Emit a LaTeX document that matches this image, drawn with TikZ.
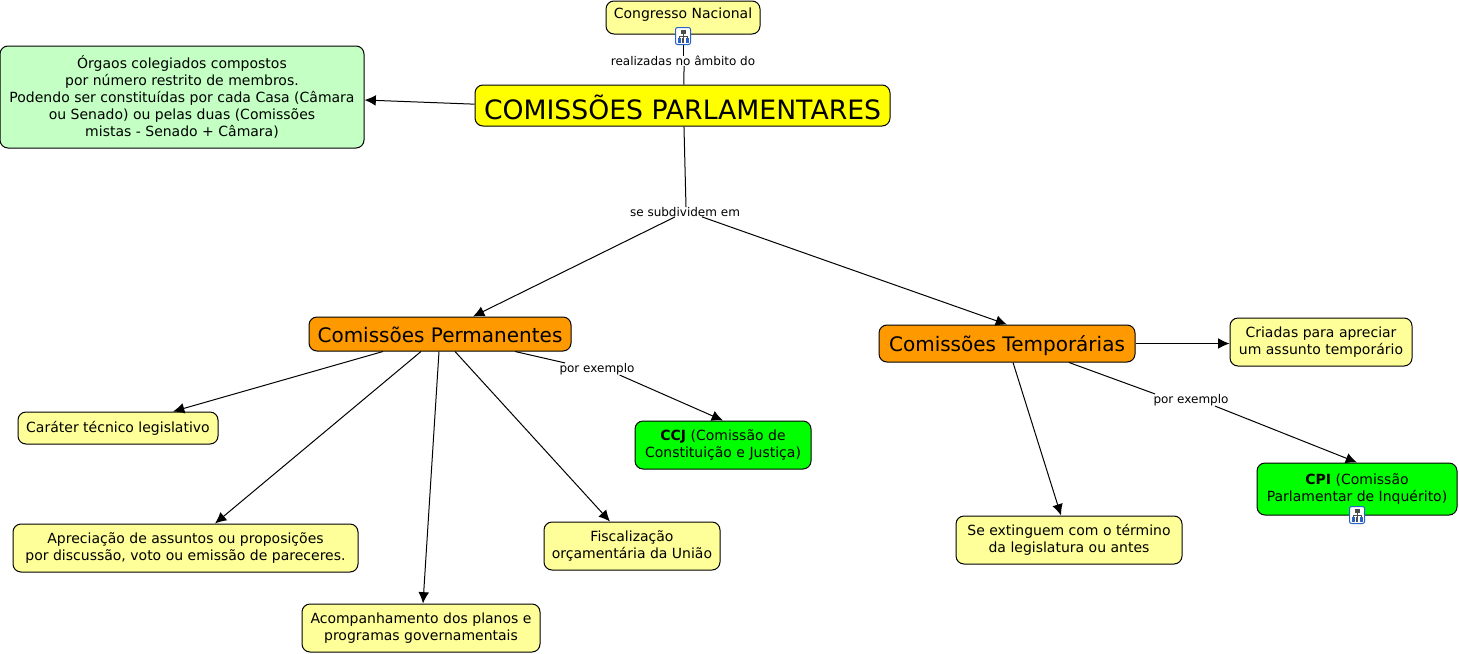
\documentclass[tikz,border=0pt]{standalone}
\usepackage{fontspec}
\setmainfont{DejaVu Sans}
\usetikzlibrary{arrows.meta}
\definecolor{paleyellow}{HTML}{FFFF99}
\definecolor{palegreen}{HTML}{C4FFC4}
\definecolor{brightgreen}{HTML}{00FF00}
\definecolor{conceptorange}{HTML}{FF9900}
\definecolor{brightyellow}{HTML}{FFFF00}
\definecolor{iconblue}{HTML}{2A62C8}
\tikzset{
  concept/.style={draw=black,line width=0.75pt,rounded corners=6pt,align=center,inner sep=0pt,
    font=\fontsize{10.5}{12.75}\selectfont,text=black},
  note/.style={concept,fill=paleyellow},
  ex/.style={concept,fill=brightgreen},
  mid/.style={concept,fill=conceptorange,font=\fontsize{15}{18}\selectfont},
  linklabel/.style={inner sep=0pt,font=\fontsize{9}{11}\selectfont,text=black},
  plainline/.style={line width=0.75pt,black},
  arrowline/.style={plainline,-{Latex[length=8.5pt,width=8pt]}},
}
\newcommand{\bx}[7]{% style, name, x0, y0, x1, y1, text
  \pgfmathsetmacro{\wdpx}{(#5-#3)*0.75}\pgfmathsetmacro{\htpx}{(#6-#4)*0.75}
  \node[#1,minimum width=\wdpx pt,minimum height=\htpx pt] (#2) at ({(#3+#5)/2},{(#4+#6)/2}) {#7};}
\newcommand{\lowertext}[2]{\raisebox{0pt}[\dimexpr\height+#1\relax][\depth]{#2}}
\newcommand{\raisetext}[2]{\raisebox{0pt}[\height][\dimexpr\depth+#1\relax]{#2}}
\newcommand{\mapicon}[1]{%
  \begin{scope}[shift={(#1)}]
    \draw[iconblue,fill=white,line width=0.75pt,rounded corners=1.5pt] (-7.5,-8.5) rectangle (7.5,8.5);
    \fill[black!70] (-2.5,-6.5) rectangle (2.5,-2.5);
    \draw[black!70,line width=0.5pt] (0,-2.5) -- (0,0) (-4,2) -- (-4,0) -- (4,0) -- (4,2) (0,0) -- (0,2);
    \fill[iconblue] (-5.5,2) rectangle (-2.5,6.5);
    \fill[black!70] (-1.2,2) rectangle (1.2,6.5);
    \fill[iconblue] (2.5,2) rectangle (5.5,6.5);
  \end{scope}}
\begin{document}
\begin{tikzpicture}[x=0.75pt,y=-0.75pt]
\useasboundingbox (0,0) rectangle (1459,653);

\bx{note}{congresso}{606}{1}{760}{34}{\raisetext{5pt}{Congresso Nacional}}
\bx{concept,fill=palegreen}{orgaos}{0}{46}{364}{148}{Órgaos colegiados compostos\\por número restrito de membros.\\Podendo ser constituídas por cada Casa (Câmara\\ou Senado) ou pelas duas (Comissões\\mistas - Senado + Câmara)}
\bx{concept,fill=brightyellow,font=\fontsize{20}{24}\selectfont}{comissoes}{475}{85}{890}{126}{\lowertext{3pt}{COMISSÕES PARLAMENTARES}}
\bx{mid}{perm}{309}{317}{571}{351}{\lowertext{1.5pt}{Comissões Permanentes}}
\bx{mid}{temp}{879}{325}{1135}{362}{\lowertext{3pt}{Comissões Temporárias}}
\bx{note}{criadas}{1230}{318}{1412}{366}{Criadas para apreciar\\um assunto temporário}
\bx{note}{carater}{18}{412}{218}{444}{Caráter técnico legislativo}
\bx{note}{apreciacao}{13}{524}{358}{572}{Apreciação de assuntos ou proposições\\por discussão, voto ou emissão de pareceres.}
\bx{note}{acomp}{302}{604}{540}{652}{Acompanhamento dos planos e\\programas governamentais}
\bx{note}{fisc}{544}{522}{720}{570}{Fiscalização\\orçamentária da União}
\bx{ex}{ccj}{635}{421}{811}{469}{\textbf{CCJ} (Comissão de\\Constituição e Justiça)}
\bx{note}{extinguem}{956}{516}{1182}{564}{Se extinguem com o término\\da legislatura ou antes}
\bx{ex}{cpi}{1257}{463}{1457}{515}{\textbf{CPI} (Comissão\\Parlamentar de Inquérito)}

\node[linklabel] (realizadas) at (683,61) {realizadas no âmbito do};
\node[linklabel] (subdividem) at (685,212) {se subdividem em};
\node[linklabel] (porperm) at (597,369) {por exemplo};
\node[linklabel] (portemp) at (1191,400) {por exemplo};

\draw[plainline] (congresso.south) -- (realizadas.north);
\draw[plainline] ([xshift=0.75pt]realizadas.south) -- ([xshift=1.1pt]comissoes.north);
\draw[arrowline] ([yshift=1pt]comissoes.west) -- ([yshift=-2.25pt]orgaos.east);
\draw[plainline] ([xshift=1.1pt]comissoes.south) -- ([xshift=0.75pt]subdividem.north);
\draw[arrowline] ([xshift=-7.5pt]subdividem.south) -- ([xshift=24.75pt]perm.north);
\draw[arrowline] ([xshift=12.75pt]subdividem.south) -- (temp.north);
\draw[arrowline] ([xshift=-42.75pt]perm.south) -- ([xshift=-0.75pt]carater.north -| 174,0);
\draw[arrowline] ([xshift=-14.25pt]perm.south) -- ([xshift=22.5pt]apreciacao.north -| 185,0);
\draw[arrowline] ([xshift=-0.75pt]perm.south) -- ([xshift=1.5pt]acomp.north);
\draw[arrowline] ([xshift=11.25pt]perm.south) -- ([xshift=-16.5pt]fisc.north);
\draw[plainline] ([xshift=56.25pt]perm.south) -- ([xshift=-24pt]porperm.north);
\draw[arrowline] ([xshift=17pt]porperm.south) -- (ccj.north);
\draw[arrowline] (temp.east) -- (criadas.west |- temp.east);
\draw[arrowline] ([xshift=4.5pt]temp.south) -- ([xshift=-6pt]extinguem.north);
\draw[plainline] ([xshift=46.5pt]temp.south) -- ([xshift=-27pt]portemp.north);
\draw[arrowline] ([xshift=18pt]portemp.south) -- (cpi.north);

\mapicon{683,36}
\mapicon{1357,515}
\end{tikzpicture}
\end{document}
